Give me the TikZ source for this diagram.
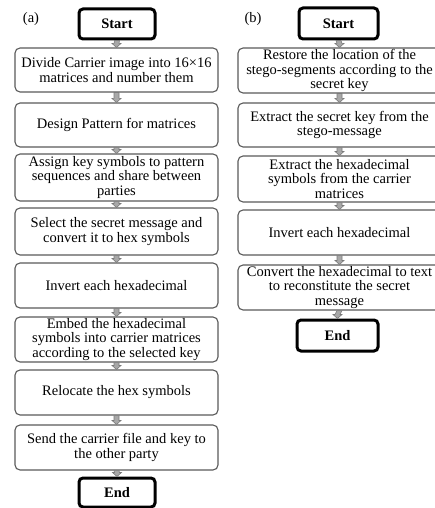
\documentclass[tikz,border=0pt]{standalone}
\usepackage{fontspec}
\setmainfont{Liberation Serif}
\usetikzlibrary{calc}
\definecolor{boxline}{HTML}{5A5A5A}
\definecolor{arrowfill}{HTML}{A8A8A8}
\definecolor{arrowline}{HTML}{7A7A7A}
\tikzset{
  proc/.style={draw=boxline, line width=1.1pt, rounded corners=5pt, fill=white,
    minimum width=203pt, inner sep=0pt, align=center,
    font=\fontsize{14.5}{14.5}\selectfont},
  term/.style={draw=black, line width=3pt, rounded corners=4pt, fill=white,
    inner sep=0pt, font=\fontsize{14.5}{15}\selectfont\bfseries},
  tag/.style={inner sep=0pt, font=\fontsize{14.5}{15}\selectfont},
  flow/.style={fill=arrowfill, draw=arrowline, line width=0.6pt}
}
% small block arrow from the bottom of one node to the top of the next
\newcommand\flowarrow[2]{%
  \path (#1.south) coordinate (p) (#2.north) coordinate (q);
  \draw[flow] ($(p)+(-2.5,0)$) -- ($(q)+(-2.5,-4)$) -- ($(q)+(-4.5,-4)$) -- (q)
    -- ($(q)+(4.5,-4)$) -- ($(q)+(2.5,-4)$) -- ($(p)+(2.5,0)$) -- cycle;}
\begin{document}
\begin{tikzpicture}[x=1pt, y=-1pt]
\useasboundingbox (0,0) rectangle (435,508);
\clip (0,0) rectangle (435,508);
\fill[white] (0,0) rectangle (435,508);

% ---- (a) embedding ----
\node[tag] (la) at (31,19) {(a)};
\node[term, minimum width=76pt, minimum height=30pt] (ls) at (117,24) {Start};
\node[proc, minimum height=44pt] (l1) at (116.5,70) {Divide Carrier image into 16×16\\matrices and number them};
\node[proc, minimum height=44pt] (l2) at (116.5,125) {Design Pattern for matrices};
\node[proc, minimum height=47pt] (l3) at (116.5,177.5) {Assign key symbols to pattern\\sequences and share between\\parties};
\node[proc, minimum height=47pt] (l4) at (116.5,231.5) {Select the secret message and\\convert it to hex symbols};
\node[proc, minimum height=45pt] (l5) at (116.5,285.5) {Invert each hexadecimal};
\node[proc, minimum height=45pt] (l6) at (116.5,339.5) {Embed the hexadecimal\\symbols into carrier matrices\\according to the selected key};
\node[proc, minimum height=45pt] (l7) at (116.5,392.5) {Relocate the hex symbols};
\node[proc, minimum height=45pt] (l8) at (116.5,447.5) {Send the carrier file and key to\\the other party};
\node[term, minimum width=76pt, minimum height=29pt] (le) at (117,492.5) {End};

\flowarrow{ls}{l1}
\flowarrow{l1}{l2}
\flowarrow{l2}{l3}
\flowarrow{l3}{l4}
\flowarrow{l4}{l5}
\flowarrow{l5}{l6}
\flowarrow{l6}{l7}
\flowarrow{l7}{l8}
\flowarrow{l8}{le}

% ---- (b) extraction ----
\node[tag] (rb) at (253,19) {(b)};
\node[term, minimum width=79pt, minimum height=31pt] (rs) at (338.5,23.5) {Start};
\node[proc, minimum height=45pt] (r1) at (339.5,70.5) {Restore the location of the\\stego-segments according to the\\secret key};
\node[proc, minimum height=44pt] (r2) at (339.5,125) {Extract the secret key from the\\stego-message};
\node[proc, minimum height=46pt] (r3) at (339.5,179) {Extract the hexadecimal\\symbols from the carrier\\matrices};
\node[proc, minimum height=45pt] (r4) at (339.5,232.5) {Invert each hexadecimal};
\node[proc, minimum height=45pt] (r5) at (339.5,287.5) {Convert the hexadecimal to text\\to reconstitute the secret\\message};
\node[term, minimum width=81pt, minimum height=31pt] (re) at (337.5,335.5) {End};

\flowarrow{rs}{r1}
\flowarrow{r1}{r2}
\flowarrow{r2}{r3}
\flowarrow{r3}{r4}
\flowarrow{r4}{r5}
\flowarrow{r5}{re}
\end{tikzpicture}
\end{document}
